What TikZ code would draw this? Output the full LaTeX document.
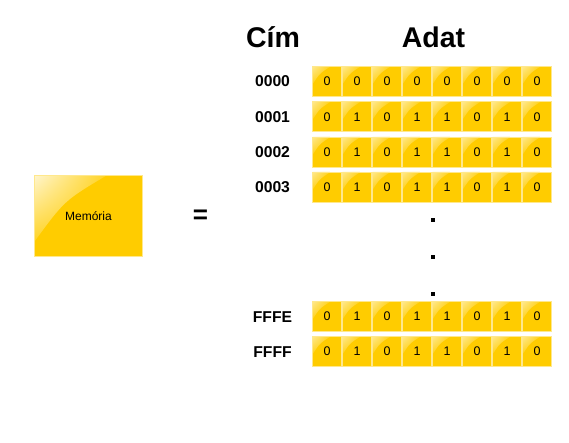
\documentclass[tikz,border=0pt]{standalone}
\usepackage{fontspec}
\setmainfont{Liberation Sans}
\usetikzlibrary{positioning,shadings}
\definecolor{memgold}{RGB}{255,204,0}
\definecolor{memedge}{RGB}{255,232,140}
\tikzset{
  bitcell/.style={minimum width=29pt, minimum height=30pt, inner sep=0pt,
    fill=memgold, draw=memedge, line width=0.8pt,
    font=\fontsize{12.5}{12.5}\selectfont,
    path picture={\begin{scope}
      \clip (path picture bounding box.north west)
        -- ([xshift=18pt]path picture bounding box.north west)
        .. controls ([xshift=7pt,yshift=-7pt]path picture bounding box.north west)
        .. ([yshift=-18pt]path picture bounding box.north west) -- cycle;
      \shade[upper left=white!55!memgold, upper right=memgold!90!white,
        lower left=memgold!90!white, lower right=memgold]
        (path picture bounding box.north west) rectangle
        ([xshift=18pt,yshift=-18pt]path picture bounding box.north west);
      \end{scope}}},
  membox/.style={minimum width=108pt, minimum height=81pt, inner sep=0pt,
    fill=memgold, draw=memedge, line width=0.8pt,
    font=\fontsize{12}{12}\selectfont,
    path picture={\begin{scope}
      \clip (path picture bounding box.north west)
        -- ([xshift=72pt]path picture bounding box.north west)
        .. controls ([xshift=30pt,yshift=-25pt]path picture bounding box.north west)
        .. ([yshift=-66pt]path picture bounding box.north west) -- cycle;
      \shade[upper left=white!80!memgold, upper right=memgold!85!white,
        lower left=memgold!85!white, lower right=memgold]
        (path picture bounding box.north west) rectangle
        ([xshift=72pt,yshift=-66pt]path picture bounding box.north west);
      \end{scope}}},
  addr/.style={anchor=base, font=\fontsize{15.7}{16}\selectfont\bfseries},
  head/.style={anchor=base, font=\fontsize{28.5}{29}\selectfont\bfseries},
  vdot/.style={fill=black, minimum size=3.5pt, inner sep=0pt}
}
\begin{document}
\begin{tikzpicture}[x=1pt,y=-1pt]
  \useasboundingbox (0,0) rectangle (569,443);
  % headers
  \node[head] (cim) at (273,48) {Cím};
  \node[head] (adat) at (433.5,48) {Adat};
  % memory rows
  \foreach \row/\y/\bits in {0000/81.5/{0,0,0,0,0,0,0,0},
      0001/116.8/{0,1,0,1,1,0,1,0}, 0002/152/{0,1,0,1,1,0,1,0},
      0003/187/{0,1,0,1,1,0,1,0}, FFFE/316.5/{0,1,0,1,1,0,1,0},
      FFFF/351.5/{0,1,0,1,1,0,1,0}} {
    \node[addr] (a\row) at (272.5,\y+5.5) {\row};
    \foreach \b [count=\i] in \bits
      \node[bitcell] (c\row-\i) at ({327+30*(\i-1)},\y) {\b};
  }
  % dots
  \node[vdot] (dot1) at (433,220) {};
  \node[vdot] (dot2) at (433,257) {};
  \node[vdot] (dot3) at (433,294) {};
  % memory box
  \node[membox] (mem) at (88.5,216) {Memória};
  \node[font=\fontsize{26}{26}\selectfont\bfseries] (eq) at (200.5,217) {=};
\end{tikzpicture}
\end{document}
